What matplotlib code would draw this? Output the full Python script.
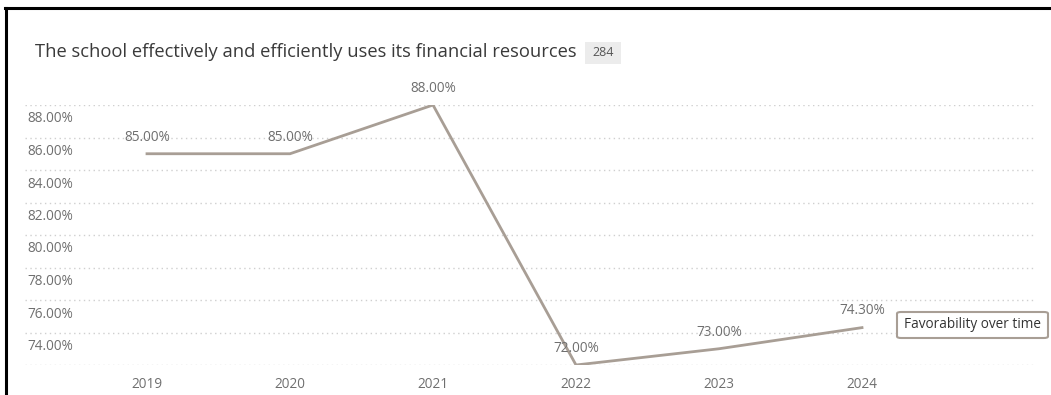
import matplotlib.pyplot as plt
from matplotlib.lines import Line2D
from matplotlib.patches import FancyBboxPatch
import matplotlib.transforms as mtransforms

plt.rcParams['font.family'] = ['Open Sans', 'DejaVu Sans']

# survey favorability by year
years = ['2019', '2020', '2021', '2022', '2023', '2024']
favorability = [85.0, 85.0, 88.0, 72.0, 73.0, 74.3]
grid_values = [72, 74, 76, 78, 80, 82, 84, 86, 88]
tick_values = [74, 76, 78, 80, 82, 84, 86, 88]
title = 'The school effectively and efficiently uses its financial resources'
respondents = '284'
series_name = 'Favorability over time'

W, H = 1051, 395
line_color = '#a89e95'
label_color = '#6f6f6f'

fig = plt.figure(figsize=(W / 100, H / 100), dpi=100)
fig.patch.set_facecolor('white')

# plot area in pixels: x 25..1035, y 105..365
ax = fig.add_axes([25 / W, 1 - 365 / H, 1010 / W, 260 / H])
ax.set_facecolor('none')
for s in ax.spines.values():
    s.set_visible(False)

xs = list(range(len(years)))
ax.set_xlim((25 - 147) / 143, (1035 - 147) / 143)
ax.set_ylim(72, 88)

for g in grid_values:
    ax.axhline(g, color='#cfcfcf', lw=1, ls=(0, (1, 2.5)), zorder=0)

ax.plot(xs, favorability, color=line_color, lw=2, solid_joinstyle='miter', zorder=3)

ax.set_xticks([])
ax.set_yticks([])

# value labels above each point
for x, v in zip(xs, favorability):
    ax.annotate(f'{v:.2f}%', (x, v), xytext=(0, 12), textcoords='offset points',
                ha='center', va='center', fontsize=9.8, color=label_color,
                annotation_clip=False, zorder=4)

# y tick labels sit just under their grid lines
below = mtransforms.offset_copy(ax.get_yaxis_transform(), fig=fig, x=2, y=-14, units='dots')
for t in tick_values:
    ax.text(0, t, f'{t:.2f}%', transform=below, ha='left', va='center',
            fontsize=9.8, color=label_color)

for x, y in zip(xs, years):
    ax.annotate(y, (x, 72), xytext=(0, -20), textcoords='offset pixels',
                ha='center', va='center', fontsize=9.8, color=label_color,
                annotation_clip=False)

# legend box
leg_x0, leg_y0, leg_w, leg_h = 897 / W, 1 - 338 / H, 151 / W, 26 / H
fig.patches.append(FancyBboxPatch((leg_x0, leg_y0), leg_w, leg_h,
                                  boxstyle='round,pad=0,rounding_size=0.004',
                                  transform=fig.transFigure, facecolor='white',
                                  edgecolor=line_color, lw=1.5, zorder=5))
fig.text(leg_x0 + leg_w / 2, leg_y0 + leg_h / 2, series_name, ha='center', va='center',
         fontsize=9.8, color='#333333', zorder=6)

# title and response count badge
fig.text(35 / W, 1 - 52 / H, title, ha='left', va='center', fontsize=13.2, color='#3a3a3a')
fig.patches.append(FancyBboxPatch((585 / W, 1 - 64 / H), 36 / W, 22 / H,
                                  boxstyle='square,pad=0', transform=fig.transFigure,
                                  facecolor='#ececec', edgecolor='none'))
fig.text(603 / W, 1 - 53 / H, respondents, ha='center', va='center', fontsize=9, color='#555555')

# outer frame (left and top edges)
fig.lines.append(Line2D([6 / W, 6 / W], [0, 1 - 8 / H], transform=fig.transFigure, color='black', lw=2.2))
fig.lines.append(Line2D([5 / W, 1], [1 - 8 / H, 1 - 8 / H], transform=fig.transFigure, color='black', lw=2.2))

fig.savefig('out.png', dpi=100, facecolor='white')
